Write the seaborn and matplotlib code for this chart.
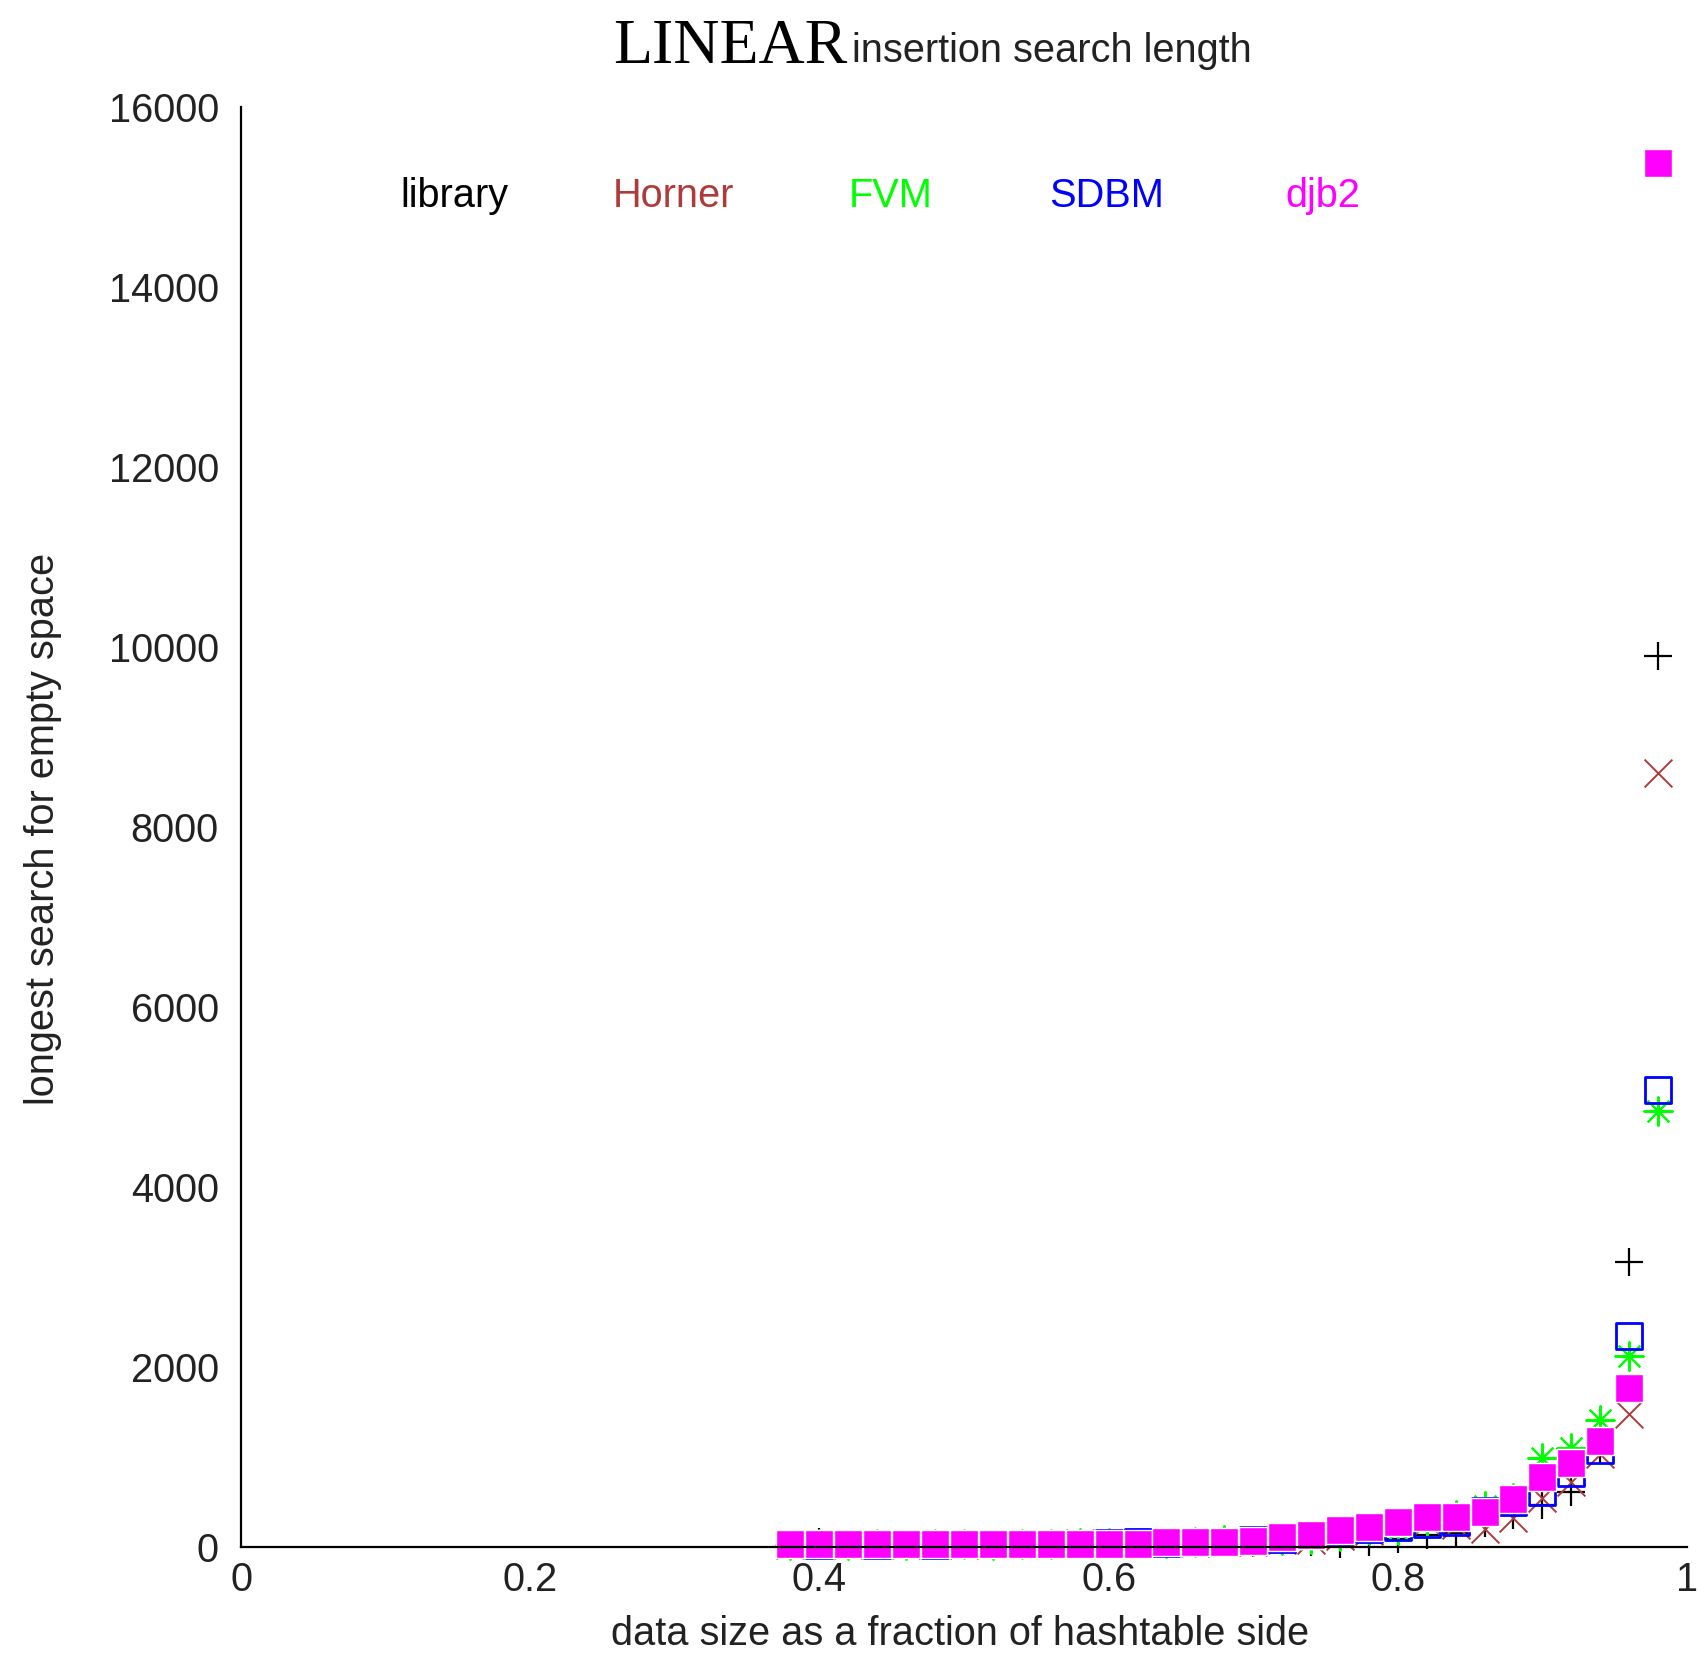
import matplotlib
matplotlib.use("Agg")
import matplotlib.pyplot as plt
import seaborn as sns
import pandas as pd

# ---------------- data ----------------
load_factor = [0.38, 0.40, 0.42, 0.44, 0.46, 0.48, 0.50, 0.52, 0.54, 0.56,
               0.58, 0.60, 0.62, 0.64, 0.66, 0.68, 0.70, 0.72, 0.74, 0.76,
               0.78, 0.80, 0.82, 0.84, 0.86, 0.88, 0.90, 0.92, 0.94, 0.96, 0.98]

library = [20, 55, 15, 20, 15, 20, 20, 25, 25, 25,
           30, 30, 35, 35, 40, 45, 40, 60, 55, 30,
           50, 90, 130, 150, 260, 350, 463, 612, 1080, 3168, 9900]

horner = [15, 20, 15, 20, 20, 25, 20, 25, 30, 25,
          45, 35, 40, 40, 45, 50, 55, 70, 80, 120,
          180, 260, 270, 240, 200, 315, 540, 723, 1030, 1474, 8600]

fvm = [20, 25, 20, 25, 20, 25, 25, 20, 30, 35,
       40, 45, 40, 45, 50, 74, 60, 80, 82, 120,
       185, 185, 290, 352, 453, 538, 990, 1094, 1405, 2115, 4840]

sdbm = [25, 20, 25, 20, 25, 20, 25, 30, 25, 30,
        35, 40, 50, 45, 50, 55, 74, 85, 130, 178,
        193, 222, 250, 278, 400, 500, 610, 820, 1070, 2345, 5076]

djb2 = [25, 25, 25, 25, 25, 25, 25, 25, 25, 25,
        25, 25, 25, 50, 52, 52, 65, 105, 125, 189,
        215, 275, 330, 330, 390, 530, 770, 930, 1174, 1760, 15380]

series_names = ["library", "Horner", "FVM", "SDBM", "djb2"]
series_colors = ["#000000", "#b03a3a", "#00ff00", "#0000ff", "#ff00ff"]

x_ticks = [0, 0.2, 0.4, 0.6, 0.8, 1.0]
x_tick_labels = ["0", "0.2", "0.4", "0.6", "0.8", "1"]
y_ticks = [0, 2000, 4000, 6000, 8000, 10000, 12000, 14000, 16000]
y_tick_labels = ["0", "2000", "4000", "6000", "8000", "10000", "12000", "14000", "16000"]

title_main = "LINEAR"
title_sub = "insertion search length"
x_label = "data size as a fraction of hashtable side"
y_label = "longest search for empty space"

# ---------------- style ----------------
sns.set_style("white")
plt.rcParams["font.family"] = ["Liberation Sans", "DejaVu Sans"]
FS = 28.6

W, H, DPI = 1705, 1662, 100
fig = plt.figure(figsize=(W / DPI, H / DPI), dpi=DPI)
ax = fig.add_axes([241 / W, 1 - 1546.7 / H, (1687 - 241) / W, (1546.7 - 107) / H])

df = pd.DataFrame({"x": load_factor, "library": library, "Horner": horner,
                   "FVM": fvm, "SDBM": sdbm, "djb2": djb2})

common = dict(ax=ax, clip_on=False, legend=False)
# library: plus
sns.scatterplot(data=df, x="x", y="library", marker="+", s=400,
                color=series_colors[0], linewidth=1.6, zorder=3, **common)
# Horner: cross
sns.scatterplot(data=df, x="x", y="Horner", marker="x", s=400,
                color=series_colors[1], linewidth=1.4, zorder=3, **common)
# FVM: asterisk
sns.scatterplot(data=df, x="x", y="FVM", marker=(8, 2, 0), s=420,
                color=series_colors[2], linewidth=1.5, zorder=3, **common)
# SDBM: open square
sns.scatterplot(data=df, x="x", y="SDBM", marker="s", s=350,
                color=series_colors[3], facecolor="none",
                edgecolor=series_colors[3], linewidth=2.0, zorder=4, **common)
# djb2: filled square
sns.scatterplot(data=df, x="x", y="djb2", marker="s", s=410,
                color=series_colors[4], edgecolor="white",
                linewidth=1.0, zorder=5, **common)

ax.set_xlim(0, 1)
ax.set_ylim(0, 16000)
ax.set_xticks(x_ticks)
ax.set_xticklabels(x_tick_labels)
ax.set_yticks(y_ticks)
ax.set_yticklabels(y_tick_labels)

for side in ["top", "right"]:
    ax.spines[side].set_visible(False)
for side in ["left", "bottom"]:
    ax.spines[side].set_visible(True)
    ax.spines[side].set_color("black")
    ax.spines[side].set_linewidth(1.6)
    ax.spines[side].set_zorder(8)

ax.tick_params(axis="both", direction="in", length=13.5, width=1.6,
               colors="black", labelsize=FS, labelcolor="#222222")
ax.tick_params(axis="x", pad=10)
ax.tick_params(axis="y", pad=16)
ax.grid(False)
ax.set_facecolor("white")

ax.set_xlabel(x_label, fontsize=FS, color="#222222")
ax.set_ylabel(y_label, fontsize=FS, color="#222222")
ax.xaxis.set_label_coords(0.497, -0.0607)
ax.xaxis.label.set_va("center")
ax.yaxis.set_label_coords(-0.1366, 0.4987)
ax.yaxis.label.set_va("center")
ax.yaxis.label.set_ha("center")

# in-plot key (text only, coloured)
key_x = [0.1477, 0.2988, 0.4492, 0.5989, 0.7483]
for name, col, kx in zip(series_names, series_colors, key_x):
    ax.text(kx, 0.9385, name, color=col, fontsize=FS, ha="center",
            va="center", transform=ax.transAxes)

# title: serif word + sans phrase on a shared baseline
fig.text(613 / W, 1 - 63 / H, title_main, family="Liberation Serif",
         fontsize=46, ha="left", va="baseline", color="black")
fig.text(852 / W, 1 - 62 / H, title_sub, fontsize=FS, ha="left",
         va="baseline", color="#222222")

fig.savefig("out.png", dpi=DPI, facecolor="white")
